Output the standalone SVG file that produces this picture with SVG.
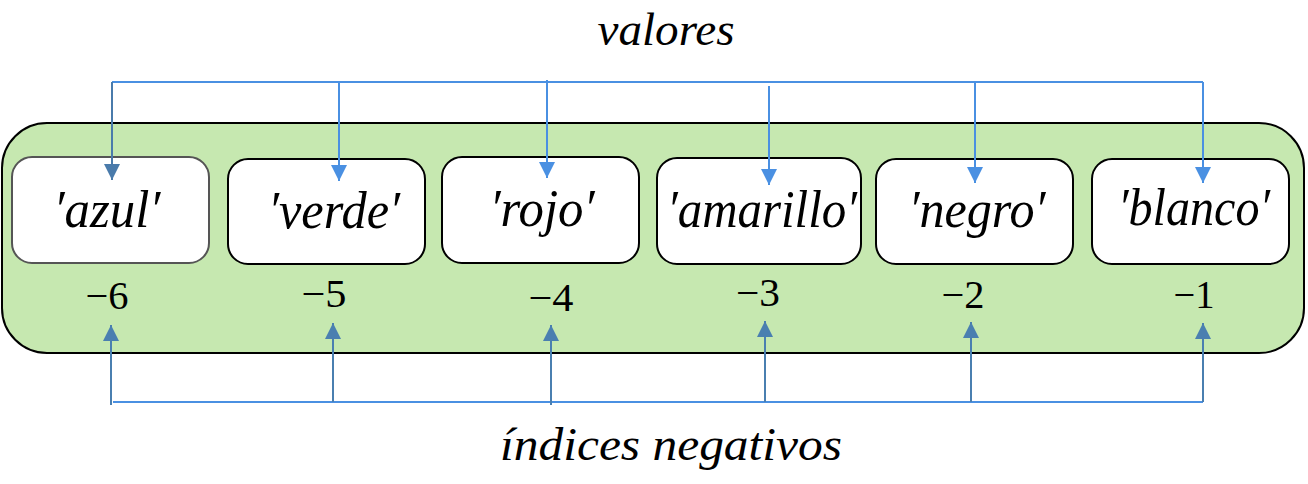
<svg xmlns="http://www.w3.org/2000/svg" width="1308" height="484" viewBox="0 0 1308 484">
<style>
.it{font-family:"Liberation Serif","DejaVu Serif",serif;font-style:italic;fill:#000;text-anchor:middle}
.ttl{font-size:46px}
.lab{font-size:52px}
.num{font-family:"Liberation Serif","DejaVu Serif",serif;font-size:40px;fill:#000;text-anchor:middle}
.box{fill:#fff;stroke:#000;stroke-width:2}
.top{fill:none;stroke:#4a90e2;stroke-width:2}
.bot{fill:none;stroke:#4a7fb0;stroke-width:2}
.hb{fill:none;stroke:#4a90e2;stroke-width:2}
</style>
<defs>
<marker id="aTop" viewBox="0 0 16 16" refX="16" refY="8" markerWidth="16" markerHeight="16" markerUnits="userSpaceOnUse" orient="auto"><path d="M0,0 L16,8 L0,16 z" fill="#4a90e2"/></marker>
<marker id="aDark" viewBox="0 0 16 16" refX="16" refY="8" markerWidth="16" markerHeight="16" markerUnits="userSpaceOnUse" orient="auto"><path d="M0,0 L16,8 L0,16 z" fill="#4a7bab"/></marker>
<marker id="aBot" viewBox="0 0 16 16" refX="16" refY="8" markerWidth="16" markerHeight="16" markerUnits="userSpaceOnUse" orient="auto"><path d="M0,0 L16,8 L0,16 z" fill="#4a7fb0"/></marker>
</defs>

<g id="container">
<rect x="2" y="123" width="1302" height="230" rx="45" ry="45" fill="#c6e8b0" stroke="#000" stroke-width="2"/>
</g>

<g id="title-valores"><text class="it ttl" x="666" y="45" textLength="137" lengthAdjust="spacingAndGlyphs">valores</text></g>
<g id="title-indices"><text class="it ttl" x="671" y="460" textLength="342" lengthAdjust="spacingAndGlyphs">índices negativos</text></g>

<g id="node-azul">
<rect x="12" y="157" width="197" height="106" rx="20" class="box" style="stroke:#555"/>
<text class="it lab" x="107" y="227" textLength="107" lengthAdjust="spacingAndGlyphs">′azul′</text>
<text class="num" x="107" y="309" textLength="43" lengthAdjust="spacingAndGlyphs">−6</text>
</g>
<g id="node-verde">
<rect x="228" y="159" width="197" height="105" rx="20" class="box"/>
<text class="it lab" x="334" y="228" textLength="132" lengthAdjust="spacingAndGlyphs">′verde′</text>
<text class="num" x="324" y="307" textLength="45" lengthAdjust="spacingAndGlyphs">−5</text>
</g>
<g id="node-rojo">
<rect x="442" y="157" width="197" height="106" rx="20" class="box"/>
<text class="it lab" x="542" y="226" textLength="105" lengthAdjust="spacingAndGlyphs">′rojo′</text>
<text class="num" x="551" y="311" textLength="45" lengthAdjust="spacingAndGlyphs">−4</text>
</g>
<g id="node-amarillo">
<rect x="657" y="158" width="204" height="106" rx="20" class="box"/>
<text class="it lab" x="762" y="227" textLength="190" lengthAdjust="spacingAndGlyphs">′amarillo′</text>
<text class="num" x="758" y="306" textLength="44" lengthAdjust="spacingAndGlyphs">−3</text>
</g>
<g id="node-negro">
<rect x="876" y="159" width="197" height="105" rx="20" class="box"/>
<text class="it lab" x="977" y="227" textLength="137" lengthAdjust="spacingAndGlyphs">′negro′</text>
<text class="num" x="963" y="308" textLength="43" lengthAdjust="spacingAndGlyphs">−2</text>
</g>
<g id="node-blanco">
<rect x="1092" y="159" width="197" height="105" rx="20" class="box"/>
<text class="it lab" x="1194" y="225" textLength="152" lengthAdjust="spacingAndGlyphs">′blanco′</text>
<text class="num" x="1194" y="308" textLength="41" lengthAdjust="spacingAndGlyphs">−1</text>
</g>

<g id="connectors">
<path class="top" d="M112,82 H1203"/>
<path class="top" d="M112,82 V180" style="stroke:#4a7bab" marker-end="url(#aDark)"/>
<path class="top" d="M339,82 V181" marker-end="url(#aTop)"/>
<path class="top" d="M547,80 V178" marker-end="url(#aTop)"/>
<path class="top" d="M769,86 V185" marker-end="url(#aTop)"/>
<path class="top" d="M975,82 V183" marker-end="url(#aTop)"/>
<path class="top" d="M1203,82 V183" marker-end="url(#aTop)"/>

<path class="hb" d="M113,402 H1203"/>
<path class="bot" d="M111,405 V325" marker-end="url(#aBot)"/>
<path class="bot" d="M333,402 V323" marker-end="url(#aBot)"/>
<path class="bot" d="M551,405 V325" marker-end="url(#aBot)"/>
<path class="bot" d="M765,402 V321" marker-end="url(#aBot)"/>
<path class="bot" d="M971,402 V322" marker-end="url(#aBot)"/>
<path class="bot" d="M1203,402 V323" marker-end="url(#aBot)"/>
</g>
</svg>
